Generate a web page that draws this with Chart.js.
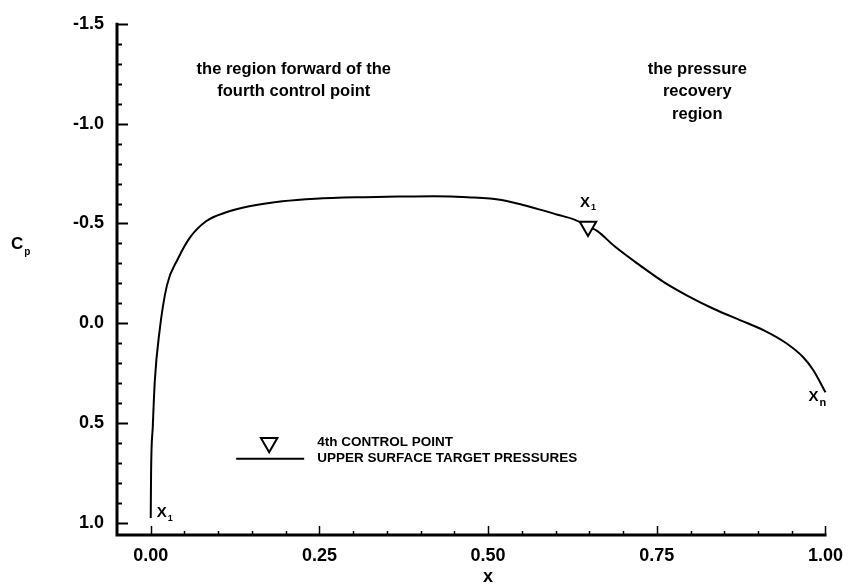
<!DOCTYPE html>
<html>
<head>
<meta charset="utf-8">
<script src="https://cdn.jsdelivr.net/npm/chart.js@4.4.0/dist/chart.umd.min.js"></script>
<style>
  html, body { margin: 0; padding: 0; background: #fff; }
  canvas { display: block; }
</style>
</head>
<body>
<canvas id="cp" width="853" height="586"></canvas>
<script>
// Upper surface target pressure distribution (chord position x, pressure coefficient Cp)
const chordX = [0.000, 0.0005, 0.003, 0.006, 0.013, 0.024, 0.040, 0.058, 0.082, 0.112,
                0.146, 0.195, 0.244, 0.318, 0.367, 0.420, 0.470, 0.520, 0.574, 0.603,
                0.628, 0.648, 0.662, 0.687, 0.726, 0.761, 0.795, 0.834, 0.874, 0.908,
                0.942, 0.967, 0.982, 1.000];
const cpValues = [0.975, 0.750, 0.520, 0.290, 0.040, -0.190, -0.321, -0.429, -0.511, -0.556,
                  -0.586, -0.611, -0.624, -0.632, -0.635, -0.637, -0.632, -0.618, -0.572, -0.544,
                  -0.519, -0.485, -0.462, -0.387, -0.288, -0.205, -0.139, -0.073, -0.015, 0.034,
                  0.100, 0.170, 0.235, 0.345];

// Fourth control point
const controlX = [0.648];
const controlCp = [-0.485];

// Labelled ticks
const xTickValues = [0.00, 0.25, 0.50, 0.75, 1.00];
const yTickValues = [-1.5, -1.0, -0.5, 0.0, 0.5, 1.0];

// Region captions
const regionCaptions = [
  { x: 0.212, y: -1.272, lines: ['the region forward of the', 'fourth control point'] },
  { x: 0.810, y: -1.272, lines: ['the pressure', 'recovery', 'region'] }
];

// Legend entries
const legendEntries = ['4th CONTROL POINT', 'UPPER SURFACE TARGET PRESSURES'];

const FONT = '"Liberation Sans", Arial, Helvetica, sans-serif';
const INK = '#000';

function drawDownTriangle(ctx, x, y, r) {
  ctx.beginPath();
  for (let k = 0; k < 3; k++) {
    const a = Math.PI + k * 2 * Math.PI / 3;
    const px = x + Math.sin(a) * r;
    const py = y - Math.cos(a) * r;
    if (k === 0) ctx.moveTo(px, py); else ctx.lineTo(px, py);
  }
  ctx.closePath();
  ctx.fillStyle = '#fff';
  ctx.fill();
  ctx.stroke();
}

function subscripted(ctx, main, sub, x, y, mainSize, subSize, dy) {
  ctx.textAlign = 'left';
  ctx.textBaseline = 'middle';
  ctx.font = 'bold ' + mainSize + 'px ' + FONT;
  ctx.fillText(main, x, y);
  const w = ctx.measureText(main).width;
  ctx.font = 'bold ' + subSize + 'px ' + FONT;
  ctx.fillText(sub, x + w + 1, y + dy);
}

const frame = {
  id: 'frame',
  afterDraw(chart) {
    const { ctx, chartArea: a, scales: { x: xs, y: ys } } = chart;
    ctx.save();
    ctx.strokeStyle = INK;
    ctx.fillStyle = INK;

    // axis lines
    ctx.lineWidth = 3;
    ctx.beginPath();
    ctx.moveTo(a.left, ys.getPixelForValue(-1.5) - 1);
    ctx.lineTo(a.left, a.bottom);
    ctx.lineTo(xs.getPixelForValue(1.0) + 1, a.bottom);
    ctx.stroke();

    // inward ticks on the Cp axis: major every 0.5, minor every 0.1
    ctx.lineWidth = 2;
    for (let i = 0; i <= 25; i++) {
      const v = -1.5 + i * 0.1;
      const py = Math.round(ys.getPixelForValue(v)) + 0.5;
      const len = (i % 5 === 0) ? 11 : 5;
      ctx.beginPath();
      ctx.moveTo(a.left, py);
      ctx.lineTo(a.left + len, py);
      ctx.stroke();
    }
    // inward ticks on the x axis: major every 0.25, minor every 0.05
    ctx.lineWidth = 1.5;
    for (let i = 0; i <= 20; i++) {
      const v = i * 0.05;
      const px = Math.round(xs.getPixelForValue(v)) + 0.5;
      const len = (i % 5 === 0) ? 9 : 4;
      ctx.beginPath();
      ctx.moveTo(px, a.bottom);
      ctx.lineTo(px, a.bottom - len);
      ctx.stroke();
    }

    // axis titles
    subscripted(ctx, 'C', 'p', 11, 244, 17, 10, 8);
    ctx.font = 'bold 18px ' + FONT;
    ctx.textAlign = 'center';
    ctx.textBaseline = 'middle';
    ctx.fillText('x', xs.getPixelForValue(0.5), a.bottom + 42);

    // region captions
    ctx.font = 'bold 16.5px ' + FONT;
    regionCaptions.forEach(c => {
      const cx = xs.getPixelForValue(c.x);
      const cy = ys.getPixelForValue(c.y);
      c.lines.forEach((s, k) => ctx.fillText(s, cx, cy + k * 22.5));
    });

    // point labels x1, xl, xn
    const p0x = xs.getPixelForValue(chordX[0]);
    const p0y = ys.getPixelForValue(cpValues[0]);
    subscripted(ctx, 'X', '1', p0x + 6, p0y - 5, 15, 9, 5);
    const pcx = xs.getPixelForValue(controlX[0]);
    const pcy = ys.getPixelForValue(controlCp[0]);
    subscripted(ctx, 'X', '1', pcx - 8, pcy - 24, 15, 9, 5);
    const pnx = xs.getPixelForValue(chordX[chordX.length - 1]);
    const pny = ys.getPixelForValue(cpValues[cpValues.length - 1]);
    subscripted(ctx, 'X', 'n', pnx - 17, pny + 5, 15, 11, 6);

    // legend
    ctx.lineWidth = 2;
    const lx = xs.getPixelForValue(0.1755);
    const ly1 = ys.getPixelForValue(0.598);
    const ly2 = ly1 + 16;
    drawDownTriangle(ctx, lx, ly1, 9.5);
    ctx.beginPath();
    ctx.moveTo(lx - 33, ly2);
    ctx.lineTo(lx + 35, ly2);
    ctx.stroke();
    ctx.fillStyle = INK;
    ctx.font = 'bold 13.5px ' + FONT;
    ctx.textAlign = 'left';
    ctx.textBaseline = 'middle';
    ctx.fillText(legendEntries[0], lx + 48, ly1);
    ctx.fillText(legendEntries[1], lx + 48, ly2);

    ctx.restore();
  }
};

const tickFont = { family: FONT, size: 18, weight: 'bold' };

new Chart(document.getElementById('cp').getContext('2d'), {
  type: 'scatter',
  data: {
    datasets: [
      {
        label: legendEntries[1],
        data: chordX.map((x, i) => ({ x, y: cpValues[i] })),
        showLine: true,
        borderColor: INK,
        borderWidth: 2,
        pointRadius: 0,
        cubicInterpolationMode: 'monotone',
        clip: false,
        order: 2
      },
      {
        label: legendEntries[0],
        data: controlX.map((x, i) => ({ x, y: controlCp[i] })),
        showLine: false,
        pointStyle: 'triangle',
        rotation: 180,
        pointRadius: 9.5,
        borderWidth: 2,
        borderColor: INK,
        backgroundColor: '#fff',
        clip: false,
        order: 1
      }
    ]
  },
  options: {
    responsive: false,
    animation: false,
    devicePixelRatio: 1,
    layout: { padding: { top: 19, right: 24, left: 0, bottom: 0 } },
    plugins: { legend: { display: false }, tooltip: { enabled: false } },
    scales: {
      x: {
        type: 'linear',
        min: -0.05,
        max: 1.0,
        afterBuildTicks: s => { s.ticks = xTickValues.map(v => ({ value: v })); },
        afterFit: s => { s.height = 51; },
        grid: { display: false, drawTicks: false },
        border: { display: false },
        ticks: {
          color: INK, font: tickFont, padding: 10, maxRotation: 0, autoSkip: false,
          callback: v => Number(v).toFixed(2)
        }
      },
      y: {
        type: 'linear',
        reverse: true,
        min: -1.5,
        max: 1.06,
        afterBuildTicks: s => { s.ticks = yTickValues.map(v => ({ value: v })); },
        afterFit: s => { s.width = 117; },
        grid: { display: false, drawTicks: false },
        border: { display: false },
        ticks: {
          color: INK, font: tickFont, padding: 13, autoSkip: false,
          callback: v => Number(v).toFixed(1)
        }
      }
    }
  },
  plugins: [frame]
});
</script>
</body>
</html>
